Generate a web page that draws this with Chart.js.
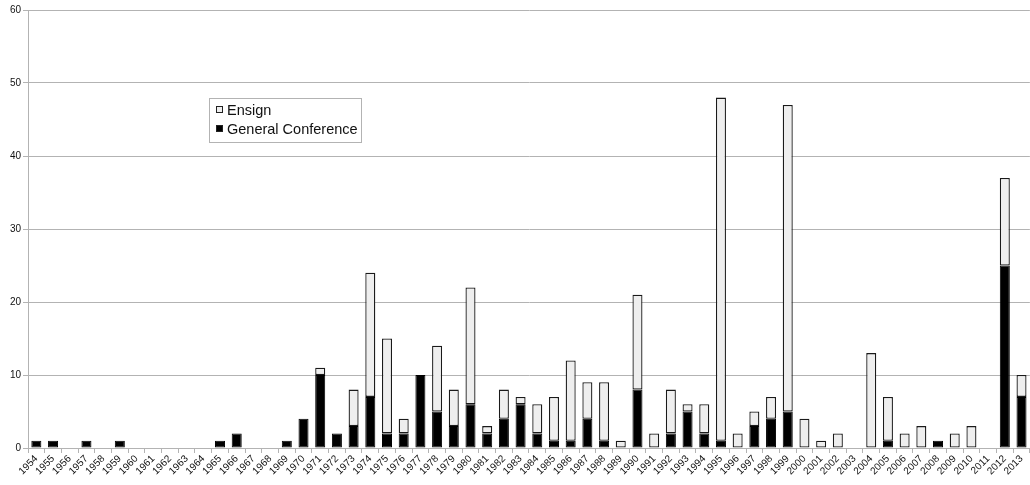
<!DOCTYPE html>
<html><head><meta charset="utf-8">
<script src="https://cdn.jsdelivr.net/npm/chart.js@4/dist/chart.umd.min.js"></script>
<style>html,body{margin:0;padding:0;background:#fff;} #wrap{width:1030px;height:485px;}</style>
</head><body><div id="wrap"><canvas id="c" width="1030" height="485"></canvas></div>
<script>
const years = ["1954","1955","1956","1957","1958","1959","1960","1961","1962","1963","1964","1965","1966","1967","1968","1969","1970","1971","1972","1973","1974","1975","1976","1977","1978","1979","1980","1981","1982","1983","1984","1985","1986","1987","1988","1989","1990","1991","1992","1993","1994","1995","1996","1997","1998","1999","2000","2001","2002","2003","2004","2005","2006","2007","2008","2009","2010","2011","2012","2013"];
const generalConference = [1,1,0,1,0,1,0,0,0,0,0,1,2,0,0,1,4,10,2,3,7,2,2,10,5,3,6,2,4,6,2,1,1,4,1,0,8,0,2,5,2,1,0,3,4,5,0,0,0,0,0,1,0,0,1,0,0,0,25,7];
const ensign = [0,0,0,0,0,0,0,0,0,0,0,0,0,0,0,0,0,1,0,5,17,13,2,0,9,5,16,1,4,1,4,6,11,5,8,1,13,2,6,1,4,47,2,2,3,42,4,1,2,0,13,6,2,3,0,2,3,0,12,3];
const yTicks = [0,10,20,30,40,50,60];

const FONT = "'Liberation Sans', 'DejaVu Sans', Arial, sans-serif";

const legendBox = {
  id: 'legendBox',
  afterDraw(chart) {
    const ctx = chart.ctx;
    const x = 209, y = 98, w = 152, h = 44;
    ctx.save();
    ctx.fillStyle = '#fff';
    ctx.fillRect(x, y, w, h);
    ctx.strokeStyle = '#b3b3b3';
    ctx.lineWidth = 1;
    ctx.strokeRect(x + 0.5, y + 0.5, w, h);
    const items = chart.data.datasets.slice().reverse();
    ctx.font = '14.5px ' + FONT;
    ctx.textBaseline = 'middle';
    items.forEach((ds, i) => {
      const cy = Math.round(y + 12 + i * 19);
      ctx.fillStyle = ds.backgroundColor;
      ctx.fillRect(x + 7, cy - 4, 7, 7);
      ctx.strokeStyle = '#222';
      ctx.strokeRect(x + 7.5, cy - 3.5, 6, 6);
      ctx.fillStyle = '#111';
      ctx.fillText(ds.label, x + 18, cy + 1);
    });
    ctx.restore();
  }
};

new Chart(document.getElementById('c'), {
  type: 'bar',
  data: {
    labels: years,
    datasets: [
      { label: 'General Conference', data: generalConference, backgroundColor: '#000000', borderColor: '#000',
        borderWidth: c => c.raw ? 1 : 0, borderSkipped: false },
      { label: 'Ensign', data: ensign, backgroundColor: '#eeeeee', borderColor: '#1a1a1a',
        borderWidth: c => c.raw ? 1.3 : 0, borderSkipped: false }
    ]
  },
  options: {
    responsive: false,
    animation: false,
    layout: { padding: { top: 10, right: 0, left: 0, bottom: 0 } },
    datasets: { bar: { barPercentage: 0.6, categoryPercentage: 1.0 } },
    plugins: { legend: { display: false }, tooltip: { enabled: false } },
    scales: {
      x: {
        stacked: true,
        afterFit(s) { s.height = 37; },
        grid: { drawOnChartArea: false, drawTicks: true, tickLength: 5, color: '#b3b3b3', offset: true },
        border: { color: '#b3b3b3' },
        ticks: { minRotation: 45, maxRotation: 45, autoSkip: false, padding: 0,
          font: { family: FONT, size: 10 }, color: '#111' }
      },
      y: {
        stacked: true,
        min: 0, max: 60,
        afterFit(s) { s.width = 28; },
        afterBuildTicks(s) { s.ticks = yTicks.map(v => ({ value: v })); },
        grid: { color: '#b3b3b3', tickLength: 5 },
        border: { color: '#b3b3b3' },
        ticks: { padding: 2, font: { family: FONT, size: 10 }, color: '#111' }
      }
    }
  },
  plugins: [legendBox]
});
</script></body></html>
